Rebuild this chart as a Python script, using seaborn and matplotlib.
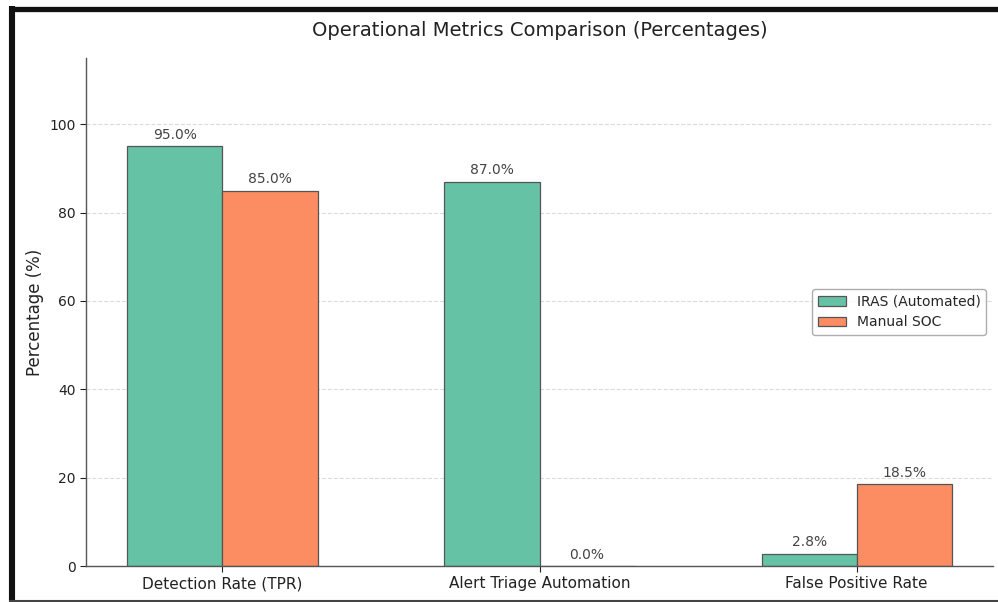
import matplotlib
matplotlib.use("Agg")
import matplotlib.pyplot as plt
from matplotlib.lines import Line2D
import seaborn as sns
import pandas as pd

metrics = ["Detection Rate (TPR)", "Alert Triage Automation", "False Positive Rate"]
iras_values = [95.0, 87.0, 2.8]
manual_values = [85.0, 0.0, 18.5]
series_names = ["IRAS (Automated)", "Manual SOC"]
y_ticks = [0, 20, 40, 60, 80, 100]

df = pd.DataFrame({
    "Metric": metrics * 2,
    "Value": iras_values + manual_values,
    "System": [series_names[0]] * len(metrics) + [series_names[1]] * len(metrics),
})

sns.set_style("white")
plt.rcParams["font.family"] = ["DejaVu Sans"]

fig = plt.figure(figsize=(9.98, 6.02), dpi=100)
ax = fig.add_axes([0.0862, 0.0598, 0.9088, 0.8439])

sns.barplot(
    data=df, x="Metric", y="Value", hue="System",
    palette=["#66c2a5", "#fc8d62"], saturation=1, width=0.6, gap=0,
    edgecolor="#555555", linewidth=0.9, errorbar=None, ax=ax,
)

for container in ax.containers:
    ax.bar_label(container, fmt="%.1f%%", padding=3, fontsize=10, color="#444444")

ax.set_xlim(-0.43, 2.43)
ax.set_ylim(0, 115)
ax.set_yticks(y_ticks)
ax.set_xlabel("")
ax.set_ylabel("Percentage (%)", fontsize=12, color="#222222", labelpad=4)
ax.set_title("Operational Metrics Comparison (Percentages)", fontsize=14, pad=16, color="#222222")
ax.tick_params(axis="both", colors="#222222", length=4, width=0.8, left=True, bottom=True)
ax.tick_params(axis="y", labelsize=10)
ax.tick_params(axis="x", labelsize=11)
ax.yaxis.grid(True, linestyle="--", color="#cccccc", alpha=0.7, linewidth=0.8)
ax.set_axisbelow(True)
for side in ("top", "right"):
    ax.spines[side].set_visible(False)
for side in ("left", "bottom"):
    ax.spines[side].set_color("#555555")
    ax.spines[side].set_linewidth(1.0)

ax.legend(loc="center right", fontsize=10, frameon=True, edgecolor="#999999",
          fancybox=True, borderaxespad=0.5)

# dark frame along the top, left and bottom edges
W, H = 998, 602
frame = dict(transform=fig.transFigure, solid_capstyle="butt")
fig.add_artist(Line2D([9 / W, 1.0], [1 - 8.5 / H, 1 - 8.5 / H], color="#111111", linewidth=3.8, **frame))
fig.add_artist(Line2D([12 / W, 12 / W], [0.0, 1 - 6 / H], color="#111111", linewidth=4.4, **frame))
fig.add_artist(Line2D([9 / W, 1.0], [1.5 / H, 1.5 / H], color="#444444", linewidth=1.5, **frame))

fig.savefig("out.png", dpi=100)
